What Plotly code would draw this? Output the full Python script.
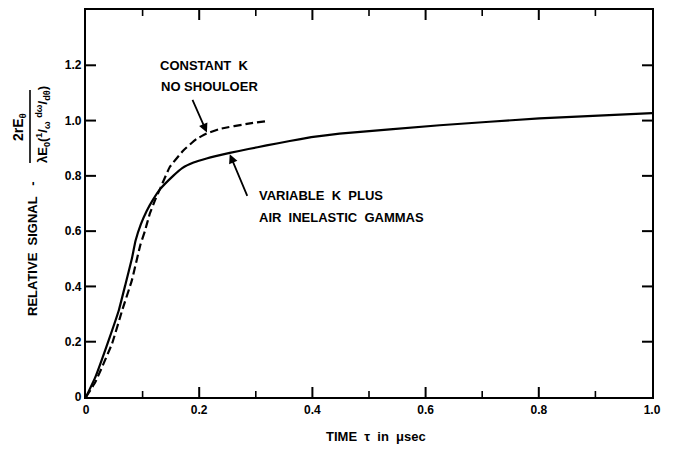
import plotly.graph_objects as go

# Data
solid_t = [0.0, 0.0165, 0.040, 0.058, 0.070, 0.081, 0.0875, 0.097, 0.107, 0.119, 0.131, 0.154, 0.170, 0.190, 0.213, 0.254, 0.287, 0.319, 0.360, 0.398, 0.448, 0.625, 0.801, 1.0]
solid_s = [0.0, 0.072, 0.205, 0.314, 0.410, 0.500, 0.565, 0.625, 0.672, 0.716, 0.752, 0.800, 0.828, 0.848, 0.863, 0.883, 0.897, 0.910, 0.926, 0.940, 0.953, 0.983, 1.008, 1.027]

dash_t = [0.0, 0.0165, 0.046, 0.064, 0.081, 0.096, 0.104, 0.113, 0.122, 0.131, 0.148, 0.172, 0.195, 0.213, 0.2365, 0.287, 0.319]
dash_s = [0.0, 0.054, 0.193, 0.314, 0.422, 0.550, 0.600, 0.665, 0.712, 0.754, 0.832, 0.892, 0.933, 0.953, 0.970, 0.989, 0.998]

x_ticks = [0, 0.2, 0.4, 0.6, 0.8, 1.0]
x_minor_ticks = [0.1, 0.3, 0.5, 0.7, 0.9]
x_tick_text = ["0", "0.2", "0.4", "0.6", "0.8", "1.0"]
y_ticks = [0, 0.2, 0.4, 0.6, 0.8, 1.0, 1.2]
y_tick_text = ["0", "0.2", "0.4", "0.6", "0.8", "1.0", "1.2"]

X_RANGE = [0, 1.0]
Y_RANGE = [0, 1.4]

W, H = 680, 452
# page body has an 8px offset; plot area lands at screen x 86..652, y 10..397
L, T = 78, 2
PW, PH = 566, 387
R = W - L - PW
B = H - T - PH

def px(sx):
    return (sx - 86) / PW

def py(sy):
    return (397 - sy) / PH

FONT = "Liberation Sans"
ink = "black"

fig = go.Figure()
fig.add_trace(go.Scatter(x=solid_t, y=solid_s, mode="lines", line=dict(color=ink, width=2.2, shape="spline", smoothing=0.3), showlegend=False, hoverinfo="skip"))
fig.add_trace(go.Scatter(x=dash_t, y=dash_s, mode="lines", line=dict(color=ink, width=2.2, dash="8px,4px", shape="spline", smoothing=0.3), showlegend=False, hoverinfo="skip"))

# inward tick marks built from the tick arrays (length given in pixels, converted by the axis scale)
def xtick_path(vals, ln_px):
    dy = ln_px * (Y_RANGE[1] - Y_RANGE[0]) / PH
    xs, ys = [], []
    for v in vals:
        xs += [v, v, None, v, v, None]
        ys += [Y_RANGE[0], Y_RANGE[0] + dy, None, Y_RANGE[1], Y_RANGE[1] - dy, None]
    return xs, ys

def ytick_path(vals, ln_px):
    dx = ln_px * (X_RANGE[1] - X_RANGE[0]) / PW
    xs, ys = [], []
    for v in vals:
        xs += [X_RANGE[0], X_RANGE[0] + dx, None, X_RANGE[1], X_RANGE[1] - dx, None]
        ys += [v, v, None, v, v, None]
    return xs, ys

for (xs, ys), w in [(xtick_path(x_ticks[1:-1], 10), 2), (xtick_path(x_minor_ticks, 6), 1.6), (ytick_path(y_ticks[1:], 10), 2)]:
    fig.add_trace(go.Scatter(x=xs, y=ys, mode="lines", line=dict(color=ink, width=w), showlegend=False, hoverinfo="skip", connectgaps=False))

F13 = dict(family=FONT, size=13, color=ink)
ann = []
ann.append(dict(x=px(158), y=py(66), xref="paper", yref="paper", text="<b>CONSTANT  K</b>", showarrow=False, xanchor="left", yanchor="middle", font=F13))
ann.append(dict(x=px(159), y=py(87), xref="paper", yref="paper", text="<b>NO SHOULOER</b>", showarrow=False, xanchor="left", yanchor="middle", font=F13))
ann.append(dict(x=px(257), y=py(195), xref="paper", yref="paper", text="<b>VARIABLE  K  PLUS</b>", showarrow=False, xanchor="left", yanchor="middle", font=F13))
ann.append(dict(x=px(257), y=py(217), xref="paper", yref="paper", text="<b>AIR  INELASTIC  GAMMAS</b>", showarrow=False, xanchor="left", yanchor="middle", font=F13))
ann.append(dict(x=0.2136, y=0.957, ax=0.187, ay=1.080, xref="x", yref="y", axref="x", ayref="y", text="", showarrow=True, arrowhead=2, arrowsize=1, arrowwidth=1.8, arrowcolor=ink))
ann.append(dict(x=0.254, y=0.878, ax=0.286, ay=0.722, xref="x", yref="y", axref="x", ayref="y", text="", showarrow=True, arrowhead=2, arrowsize=1, arrowwidth=1.8, arrowcolor=ink))
ann.append(dict(x=px(32), y=py(249), xref="paper", yref="paper", text="<b>RELATIVE  SIGNAL   -</b>", textangle=-90, showarrow=False, xanchor="center", yanchor="middle", font=F13))
ann.append(dict(x=px(19), y=py(127), xref="paper", yref="paper", text="<b>2rE<sub>θ</sub></b>", textangle=-90, showarrow=False, xanchor="center", yanchor="middle", font=dict(family=FONT, size=14, color=ink)))
ann.append(dict(x=px(43), y=py(125), xref="paper", yref="paper", text="<b>λE<sub>0</sub>(<sup>1</sup>/<sub>ω</sub> <sup>dω</sup>/<sub>dθ</sub>)</b>", textangle=-90, showarrow=False, xanchor="center", yanchor="middle", font=dict(family=FONT, size=13, color=ink)))
ann.append(dict(x=px(376), y=py(436), xref="paper", yref="paper", text="<b>TIME  τ  in  μsec</b>", showarrow=False, xanchor="center", yanchor="middle", font=F13))

fig.update_layout(
    width=W, height=H,
    margin=dict(l=L, r=R, t=T, b=B, pad=0, autoexpand=False),
    paper_bgcolor="white", plot_bgcolor="white",
    font=dict(family=FONT, size=12, color=ink),
    annotations=ann,
    shapes=[dict(type="line", xref="paper", yref="paper", x0=px(30), x1=px(30), y0=py(90), y1=py(163), line=dict(color=ink, width=1.6))],
    showlegend=False,
    xaxis=dict(range=X_RANGE, showgrid=False, zeroline=False, automargin=False,
               showline=True, linecolor=ink, linewidth=2.2, mirror=True, ticks="",
               tickmode="array", tickvals=x_ticks, ticktext=["<b>%s</b>" % t for t in x_tick_text],
               tickfont=dict(family=FONT, size=12, color=ink)),
    yaxis=dict(range=Y_RANGE, showgrid=False, zeroline=False, automargin=False,
               showline=True, linecolor=ink, linewidth=2.2, mirror=True, ticks="",
               tickmode="array", tickvals=y_ticks, ticktext=["<b>%s</b>" % t for t in y_tick_text],
               tickfont=dict(family=FONT, size=12, color=ink)),
)

fig.write_html("out.html")
